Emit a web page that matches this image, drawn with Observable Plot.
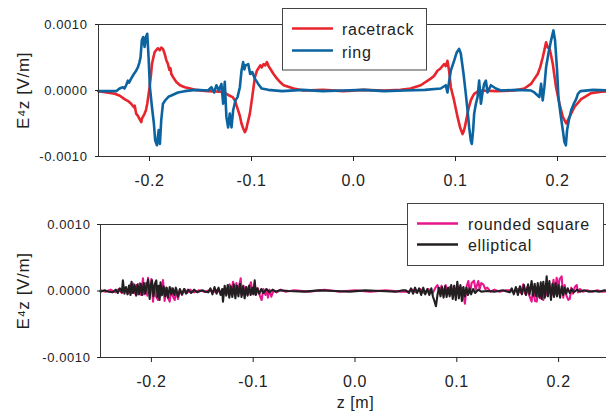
<!DOCTYPE html>
<html><head><meta charset="utf-8">
<script src="https://cdn.jsdelivr.net/npm/d3@7"></script>
<script src="https://cdn.jsdelivr.net/npm/@observablehq/plot@0.6"></script>
<style>
html,body{margin:0;padding:0;background:#fff;overflow:hidden;}
#fig{position:relative;width:606px;height:412px;overflow:hidden;font-family:"Liberation Sans",Arial,sans-serif;}
#fig svg{position:absolute;left:0;}
</style></head>
<body><div id="fig"></div>
<script>
const xTicks = [-0.2, -0.1, 0, 0.1, 0.2];
const xDomain = [-0.25, 0.25];
const yTicks = [-0.001, 0, 0.001];
const yTitle = "E\u2074z [V/m]";
const xTitle = "z [m]";
const topNames = ["racetrack", "ring"];
const topColors = ["#e8242c", "#0b64a0"];
const botNames = ["rounded square", "elliptical"];
const botColors = ["#e6168c", "#231f20"];

// [z (m), E (V/m)]
const racetrack = [[-0.25,-1e-5],[-0.242,-3e-5],[-0.234,-5e-5],[-0.229,-8e-5],[-0.2245,-1.3e-4],[-0.221,-1.6e-4],[-0.218,-2.0e-4],[-0.2155,-2.5e-4],[-0.2145,-2.3e-4],[-0.2131,-3.5e-4],[-0.2115,-3.8e-4],[-0.2098,-4.3e-4],[-0.2081,-4.8e-4],[-0.2073,-4.2e-4],[-0.2065,-4.0e-4],[-0.2048,-3.5e-4],[-0.2035,-3.0e-4],[-0.2022,-2.0e-4],[-0.1999,5e-5],[-0.1985,2.5e-4],[-0.1976,4.0e-4],[-0.1962,5.0e-4],[-0.195,5.8e-4],[-0.193,6.2e-4],[-0.1917,6.4e-4],[-0.19,6.1e-4],[-0.1885,6.5e-4],[-0.1868,6.3e-4],[-0.1852,5.6e-4],[-0.1835,4.6e-4],[-0.1819,4.0e-4],[-0.1805,3.1e-4],[-0.1795,3.4e-4],[-0.1786,2.5e-4],[-0.176,1.8e-4],[-0.1737,1.3e-4],[-0.170,8e-5],[-0.1655,5e-5],[-0.160,3e-5],[-0.1557,1e-5],[-0.1426,-1e-5],[-0.13,-2e-5],[-0.1245,-5e-5],[-0.1213,-8e-5],[-0.1185,-1.0e-4],[-0.1163,-1.5e-4],[-0.1131,-3.0e-4],[-0.1115,-3.8e-4],[-0.1098,-5.0e-4],[-0.108,-5.8e-4],[-0.1065,-6.3e-4],[-0.1052,-5.9e-4],[-0.1039,-5.0e-4],[-0.1016,-3.5e-4],[-0.0993,-1.0e-4],[-0.0967,2.0e-4],[-0.0947,3.0e-4],[-0.0914,3.8e-4],[-0.090,3.5e-4],[-0.0882,4.0e-4],[-0.0865,3.8e-4],[-0.0849,4.3e-4],[-0.083,3.6e-4],[-0.0816,3.3e-4],[-0.0784,2.5e-4],[-0.075,1.8e-4],[-0.0715,1.2e-4],[-0.0685,8e-5],[-0.0587,3e-5],[-0.0489,0],[-0.03,1e-5],[-0.01,-1e-5],[0.01,1e-5],[0.03,0],[0.046,1e-5],[0.056,3e-5],[0.0659,8e-5],[0.0757,1.8e-4],[0.079,2.2e-4],[0.0823,3.0e-4],[0.085,3.3e-4],[0.0888,4.0e-4],[0.0905,3.7e-4],[0.0921,4.5e-4],[0.0937,3.0e-4],[0.0954,5e-5],[0.0986,-1.5e-4],[0.102,-4.0e-4],[0.1045,-5.6e-4],[0.1069,-6.6e-4],[0.108,-6.2e-4],[0.1091,-5.6e-4],[0.1118,-3.5e-4],[0.113,-2.6e-4],[0.115,-1.5e-4],[0.1165,-1.0e-4],[0.1183,-5e-5],[0.1232,0],[0.14,-1e-5],[0.1576,0],[0.1675,3e-5],[0.174,1e-4],[0.1775,1.8e-4],[0.1806,2.5e-4],[0.183,3.5e-4],[0.1855,5.0e-4],[0.187,6.0e-4],[0.1888,7.3e-4],[0.1905,6.5e-4],[0.192,6.6e-4],[0.1954,4.0e-4],[0.1986,5e-5],[0.2019,-2.0e-4],[0.2052,-4.0e-4],[0.2085,-5.0e-4],[0.2118,-4.0e-4],[0.2166,-2.5e-4],[0.2232,-1.3e-4],[0.233,-4e-5],[0.2429,-2e-5],[0.25,-1e-5]];

const ring = [[-0.25,-1e-5],[-0.2327,-1e-5],[-0.2294,3e-5],[-0.2262,5e-5],[-0.2245,3e-5],[-0.2229,8e-5],[-0.2212,1.5e-4],[-0.22,1.2e-4],[-0.218,1.8e-4],[-0.2165,2.2e-4],[-0.2153,2.5e-4],[-0.2131,3.0e-4],[-0.2114,3.5e-4],[-0.21,4.2e-4],[-0.2088,5.0e-4],[-0.2075,7.6e-4],[-0.2062,8.1e-4],[-0.2048,6.6e-4],[-0.2035,8.1e-4],[-0.2022,8.6e-4],[-0.2009,5.0e-4],[-0.1996,5e-5],[-0.1976,-2.5e-4],[-0.1957,-5.0e-4],[-0.1944,-7.6e-4],[-0.1927,-8.3e-4],[-0.191,-6.0e-4],[-0.1898,-8.1e-4],[-0.1885,-4.5e-4],[-0.1868,-2.0e-4],[-0.185,-1.6e-4],[-0.1835,-1.3e-4],[-0.181,-9e-5],[-0.1786,-7.6e-5],[-0.1721,-3e-5],[-0.1655,-1e-5],[-0.155,1e-5],[-0.1426,0],[-0.1393,5e-5],[-0.1367,-3e-5],[-0.1344,8e-5],[-0.1321,0],[-0.1295,1.0e-4],[-0.1278,-2.0e-4],[-0.1262,1.3e-4],[-0.1246,-4.0e-4],[-0.1229,-5.6e-4],[-0.1213,-3.5e-4],[-0.1196,-5.6e-4],[-0.118,-3.0e-4],[-0.1157,-1.5e-4],[-0.1137,-1.0e-4],[-0.1114,5e-5],[-0.1098,3.0e-4],[-0.1082,4.3e-4],[-0.107,3.2e-4],[-0.1059,3.8e-4],[-0.1032,4.0e-4],[-0.1013,2.5e-4],[-0.0993,2.8e-4],[-0.0967,1.8e-4],[-0.0934,1.0e-4],[-0.0901,3e-5],[-0.0836,1e-5],[-0.07,-1e-5],[-0.05,1e-5],[-0.03,-1e-5],[-0.01,0],[0.01,1e-5],[0.03,-1e-5],[0.05,0],[0.07,1e-5],[0.0855,3e-5],[0.0905,8e-5],[0.0921,-3e-5],[0.0937,1.3e-4],[0.0954,3.0e-4],[0.0986,4.5e-4],[0.1013,5.8e-4],[0.1035,6.3e-4],[0.1052,5.6e-4],[0.1079,2.5e-4],[0.1101,-5e-5],[0.1118,-3.0e-4],[0.1134,-5.6e-4],[0.115,-7.6e-4],[0.116,-8.1e-4],[0.1173,-6.0e-4],[0.1183,-3.5e-4],[0.12,-2.0e-4],[0.1216,-1.0e-4],[0.1232,1.5e-4],[0.1249,-2.0e-4],[0.1265,-3e-5],[0.1281,1.0e-4],[0.1298,1.5e-4],[0.1314,-3e-5],[0.1347,8e-5],[0.1396,3e-5],[0.1445,0],[0.16,1e-5],[0.174,0],[0.1773,-3e-5],[0.1806,-7.6e-5],[0.1822,-1.0e-4],[0.1839,1.0e-4],[0.1855,-1.5e-4],[0.1871,5e-5],[0.1888,3.5e-4],[0.1911,5.6e-4],[0.1937,7.6e-4],[0.196,9.1e-4],[0.1976,7.6e-4],[0.1996,3.0e-4],[0.2009,-1.0e-4],[0.2029,-3.5e-4],[0.2052,-6.0e-4],[0.2068,-7.8e-4],[0.2082,-8.3e-4],[0.2094,-6.0e-4],[0.2111,-4.5e-4],[0.2134,-3.0e-4],[0.216,-2.0e-4],[0.2183,-1.3e-4],[0.22,-5e-5],[0.2225,-1e-5],[0.235,1e-5],[0.25,0]];

const roundedSquare = [[-0.25,1e-5],[-0.245,-1e-5],[-0.24,2e-5],[-0.235,-2e-5],[-0.232,3e-5],[-0.229,-3e-5],[-0.226,4e-5],[-0.223,-4e-5],[-0.2205,1.0e-4],[-0.219,-3e-5],[-0.2175,1.1e-4],[-0.216,-4e-5],[-0.2145,9e-5],[-0.213,-5e-5],[-0.2115,1.15e-4],[-0.210,-6e-5],[-0.2083,1.9e-4],[-0.207,-5e-5],[-0.2055,1.2e-4],[-0.204,-7e-5],[-0.2033,2.0e-4],[-0.2015,-6e-5],[-0.2,1.8e-4],[-0.1984,-1.6e-4],[-0.197,9e-5],[-0.1955,-8e-5],[-0.1935,-1.35e-4],[-0.192,8e-5],[-0.1905,-7e-5],[-0.1886,1.65e-4],[-0.187,-1.5e-4],[-0.1855,5e-5],[-0.184,-9e-5],[-0.182,-1.6e-4],[-0.1805,4e-5],[-0.179,-8e-5],[-0.1771,-1.35e-4],[-0.1755,3e-5],[-0.1739,-1.2e-4],[-0.172,2e-5],[-0.170,-6e-5],[-0.1673,3e-5],[-0.165,-3e-5],[-0.162,2e-5],[-0.158,-2e-5],[-0.153,1e-5],[-0.148,-1e-5],[-0.143,1e-5],[-0.138,-1e-5],[-0.135,2e-5],[-0.132,-3e-5],[-0.129,3e-5],[-0.1265,-4e-5],[-0.1245,6e-5],[-0.1231,1.0e-4],[-0.1215,-5e-5],[-0.1198,1.4e-4],[-0.118,-6e-5],[-0.1165,1.2e-4],[-0.115,-5e-5],[-0.1135,1.0e-4],[-0.1123,1.9e-4],[-0.111,-6e-5],[-0.1095,8e-5],[-0.108,-7e-5],[-0.1065,6e-5],[-0.105,-5e-5],[-0.1035,7e-5],[-0.1022,1.3e-4],[-0.1005,-4e-5],[-0.0985,1.2e-4],[-0.097,-5e-5],[-0.0955,4e-5],[-0.0935,-7e-5],[-0.0917,-1.35e-4],[-0.090,3e-5],[-0.088,-6e-5],[-0.0865,2e-5],[-0.0855,-1.0e-4],[-0.084,2e-5],[-0.0822,-8.5e-5],[-0.080,1e-5],[-0.077,-2e-5],[-0.073,2e-5],[-0.068,-1e-5],[-0.06,1e-5],[-0.045,-1e-5],[-0.03,2e-5],[-0.015,-1e-5],[0,1e-5],[0.015,-1e-5],[0.03,1e-5],[0.045,-1e-5],[0.052,-1e-5],[0.056,2e-5],[0.06,-2e-5],[0.064,3e-5],[0.068,-3e-5],[0.072,3e-5],[0.076,-4e-5],[0.079,5e-5],[0.081,9e-5],[0.083,-4e-5],[0.085,8e-5],[0.087,-5e-5],[0.089,9e-5],[0.091,-4e-5],[0.093,6e-5],[0.095,-5e-5],[0.097,7e-5],[0.099,-4e-5],[0.101,7e-5],[0.103,-5e-5],[0.105,5e-5],[0.108,-1.9e-4],[0.1095,6e-5],[0.1113,1.5e-4],[0.113,-3e-5],[0.1145,1.2e-4],[0.1169,1.55e-4],[0.1185,2e-5],[0.1211,1.5e-4],[0.1225,3e-5],[0.124,1.2e-4],[0.126,1.0e-4],[0.128,3e-5],[0.130,5e-5],[0.133,-1e-5],[0.137,2e-5],[0.142,-1e-5],[0.148,1e-5],[0.152,1e-5],[0.156,-2e-5],[0.16,3e-5],[0.163,-3e-5],[0.1653,1.0e-4],[0.167,-4e-5],[0.169,5e-5],[0.171,-6e-5],[0.1735,-1.6e-4],[0.175,4e-5],[0.1768,-1.5e-4],[0.1785,-1.6e-4],[0.180,5e-5],[0.1817,-1.1e-4],[0.183,4e-5],[0.185,-1.35e-4],[0.187,6e-5],[0.189,-7e-5],[0.191,8e-5],[0.193,-6e-5],[0.195,1.7e-4],[0.1965,-5e-5],[0.1981,2.0e-4],[0.1995,3e-5],[0.201,1.8e-4],[0.203,2.2e-4],[0.2046,-1.0e-4],[0.206,9e-5],[0.2075,-6e-5],[0.2095,-1.35e-4],[0.211,-1.2e-4],[0.2125,5e-5],[0.214,-4e-5],[0.216,6e-5],[0.2178,9e-5],[0.219,-2e-5],[0.221,3e-5],[0.224,-1e-5],[0.228,1e-5],[0.233,-1e-5],[0.238,1e-5],[0.243,-1e-5],[0.25,0]];

const elliptical = [[-0.25,-1e-5],[-0.246,1e-5],[-0.242,-1e-5],[-0.238,-2e-5],[-0.235,2e-5],[-0.233,-3e-5],[-0.231,4e-5],[-0.229,-2e-5],[-0.228,1.6e-4],[-0.2265,-4e-5],[-0.225,6e-5],[-0.2235,-5e-5],[-0.222,8e-5],[-0.2205,-6e-5],[-0.2195,1.4e-4],[-0.218,-3e-5],[-0.2165,9e-5],[-0.215,-7e-5],[-0.2135,1.0e-4],[-0.212,-5e-5],[-0.2105,1.1e-4],[-0.209,-6e-5],[-0.2075,1.2e-4],[-0.206,-4e-5],[-0.2045,9e-5],[-0.2033,1.7e-4],[-0.2017,-1.2e-4],[-0.2005,1.0e-4],[-0.1994,1.6e-4],[-0.198,-8e-5],[-0.1965,1.1e-4],[-0.1952,1.6e-4],[-0.194,-9e-5],[-0.1928,8e-5],[-0.1919,-1.35e-4],[-0.191,1.3e-4],[-0.1895,-6e-5],[-0.188,7e-5],[-0.1865,-8e-5],[-0.185,5e-5],[-0.1837,-1.0e-4],[-0.182,6e-5],[-0.1805,-5e-5],[-0.179,4e-5],[-0.1775,-6e-5],[-0.176,5e-5],[-0.1739,-8.5e-5],[-0.172,3e-5],[-0.170,-5e-5],[-0.168,3e-5],[-0.166,-4e-5],[-0.164,2e-5],[-0.161,-3e-5],[-0.158,2e-5],[-0.155,-2e-5],[-0.150,1e-5],[-0.147,-1e-5],[-0.144,-2e-5],[-0.142,4e-5],[-0.140,-5e-5],[-0.138,6e-5],[-0.136,-4e-5],[-0.134,5e-5],[-0.132,-6e-5],[-0.1305,3e-5],[-0.1297,-1.6e-4],[-0.128,8e-5],[-0.1265,-7e-5],[-0.125,9e-5],[-0.1235,-1.0e-4],[-0.122,7e-5],[-0.1205,-9e-5],[-0.119,1.0e-4],[-0.1175,-1.1e-4],[-0.116,8e-5],[-0.1145,-8e-5],[-0.113,1.1e-4],[-0.1115,-9e-5],[-0.110,7e-5],[-0.1084,-1.1e-4],[-0.107,6e-5],[-0.1055,-7e-5],[-0.104,8e-5],[-0.1025,-6e-5],[-0.101,5e-5],[-0.0998,-5e-5],[-0.0985,1.6e-4],[-0.0975,-6e-5],[-0.096,4e-5],[-0.094,-4e-5],[-0.092,3e-5],[-0.090,-3e-5],[-0.087,3e-5],[-0.084,-2e-5],[-0.081,2e-5],[-0.078,-1e-5],[-0.074,1e-5],[-0.065,0],[-0.05,-1e-5],[-0.035,1e-5],[-0.02,0],[-0.005,-1e-5],[0.01,1e-5],[0.025,0],[0.04,-1e-5],[0.047,1e-5],[0.050,1e-5],[0.053,-3e-5],[0.055,4e-5],[0.057,-4e-5],[0.059,5e-5],[0.061,-3e-5],[0.063,4e-5],[0.065,-6e-5],[0.067,5e-5],[0.069,-5e-5],[0.071,3e-5],[0.073,-6e-5],[0.075,4e-5],[0.0765,-8e-5],[0.078,-1.5e-4],[0.0795,-2.3e-4],[0.081,-6e-5],[0.0825,5e-5],[0.084,-8e-5],[0.0855,6e-5],[0.087,-1.0e-4],[0.0885,7e-5],[0.090,-9e-5],[0.0915,5e-5],[0.093,-8e-5],[0.0945,9e-5],[0.096,-1.2e-4],[0.0975,8e-5],[0.099,-1.35e-4],[0.1005,1.4e-4],[0.102,-1.1e-4],[0.1035,9e-5],[0.105,-1.5e-4],[0.1065,6e-5],[0.108,-8e-5],[0.1095,5e-5],[0.111,-6e-5],[0.1125,4e-5],[0.114,-5e-5],[0.116,3e-5],[0.118,-3e-5],[0.121,2e-5],[0.124,-1e-5],[0.13,0],[0.137,-1e-5],[0.145,1e-5],[0.150,-1e-5],[0.152,-2e-5],[0.154,4e-5],[0.156,-5e-5],[0.158,6e-5],[0.160,-6e-5],[0.162,7e-5],[0.164,-5e-5],[0.166,9e-5],[0.168,-6e-5],[0.170,1.0e-4],[0.1715,-5e-5],[0.1735,1.5e-4],[0.175,-7e-5],[0.1765,1.1e-4],[0.178,-8e-5],[0.1795,1.2e-4],[0.181,-9e-5],[0.1825,1.3e-4],[0.1834,-1.2e-4],[0.185,1.4e-4],[0.1865,-1.0e-4],[0.1883,2.2e-4],[0.1895,-8e-5],[0.191,1.5e-4],[0.1925,-1.35e-4],[0.194,1.1e-4],[0.1955,-9e-5],[0.197,1.2e-4],[0.1985,-8e-5],[0.200,9e-5],[0.2015,-1.0e-4],[0.203,7e-5],[0.2045,-6e-5],[0.206,5e-5],[0.2075,-4e-5],[0.209,4e-5],[0.211,-3e-5],[0.213,3e-5],[0.215,-2e-5],[0.218,2e-5],[0.221,-1e-5],[0.225,1e-5],[0.23,-1e-5],[0.235,0],[0.24,-1e-5],[0.245,1e-5],[0.25,0]];

const axisColor = "#333";
const fig = document.getElementById("fig");

function panel({names, colors, series, top, height, marginBottom, marginLeft, xRange, tickPad, strokeWidth, yTitleDx, withXTitle}) {
  const data = series.flatMap((pts, i) => pts.map(([z, e]) => ({z, e, name: names[i]})));
  const marks = [
    Plot.line(data, {x: "z", y: "e", z: "name", stroke: "name", strokeWidth, strokeLinejoin: "round"}),
    Plot.ruleY([yTicks[yTicks.length - 1]], {stroke: axisColor}),
    Plot.ruleY([yTicks[0]], {stroke: axisColor}),
    Plot.ruleX([xDomain[0]], {stroke: axisColor}),
    Plot.axisX({ticks: xTicks, tickFormat: d => d.toFixed(1), tickSize: 5, tickPadding: 13, fontSize: 16, label: null}),
    Plot.axisY({ticks: yTicks, tickFormat: d => d.toFixed(4), tickSize: 3, tickPadding: tickPad, fontSize: 13, label: null}),
    Plot.text([yTitle], {text: d => d, frameAnchor: "left", rotate: -90, dx: yTitleDx, lineAnchor: "bottom", textAnchor: "middle", fontSize: 17, fill: "#222"})
  ];
  if (withXTitle) marks.push(Plot.text([xTitle], {text: d => d, frameAnchor: "bottom", dx: 2, dy: 50, lineAnchor: "bottom", fontSize: 16, fill: "#222"}));
  const svg = Plot.plot({
    width: 606, height,
    marginTop: 24, marginBottom, marginLeft, marginRight: 0,
    x: {domain: xDomain, range: xRange},
    y: {domain: [yTicks[0], yTicks[yTicks.length - 1]]},
    color: {domain: names, range: colors},
    style: {fontFamily: "'Liberation Sans', Arial, sans-serif", color: "#222", letterSpacing: "0.6px", background: "transparent"},
    marks
  });
  svg.style.top = top + "px";
  fig.appendChild(svg);
}

panel({names: topNames, colors: topColors, series: [racetrack, ring], top: 0, height: 200, marginBottom: 44, marginLeft: 98, xRange: [98, 608], tickPad: 8, strokeWidth: 2.6, yTitleDx: -70});
panel({names: botNames, colors: botColors, series: [roundedSquare, elliptical], top: 200, height: 212, marginBottom: 55, marginLeft: 100, xRange: [100, 609], tickPad: 7, strokeWidth: 2.1, yTitleDx: -72, withXTitle: true});

// legends
const ns = "http://www.w3.org/2000/svg";
const leg = document.createElementNS(ns, "svg");
leg.setAttribute("width", 606); leg.setAttribute("height", 412);
leg.style.top = "0px";
leg.style.fontFamily = "'Liberation Sans', Arial, sans-serif";
leg.style.letterSpacing = "0.7px";
function legend(names, colors, box, lineX, textX, ys, baseY) {
  const r = document.createElementNS(ns, "rect");
  r.setAttribute("x", box[0]); r.setAttribute("y", box[1]); r.setAttribute("width", box[2]); r.setAttribute("height", box[3]);
  r.setAttribute("fill", "#fff"); r.setAttribute("stroke", "#444"); r.setAttribute("stroke-width", 1);
  leg.appendChild(r);
  names.forEach((n, i) => {
    const l = document.createElementNS(ns, "line");
    l.setAttribute("x1", lineX[0]); l.setAttribute("x2", lineX[1]);
    l.setAttribute("y1", ys[i]); l.setAttribute("y2", ys[i]);
    l.setAttribute("stroke", colors[i]); l.setAttribute("stroke-width", 2.5);
    leg.appendChild(l);
    const t = document.createElementNS(ns, "text");
    t.setAttribute("x", textX); t.setAttribute("y", baseY[i]);
    t.setAttribute("font-size", 16); t.setAttribute("fill", "#222");
    t.textContent = n;
    leg.appendChild(t);
  });
}
legend(topNames, topColors, [282.5, 8.5, 144, 61.5], [292, 333], 342, [28.5, 50.5], [35, 58]);
legend(botNames, botColors, [407.5, 203.5, 196, 62], [417, 458], 468, [223.5, 244.5], [230, 251]);
fig.appendChild(leg);
</script>
</body></html>
